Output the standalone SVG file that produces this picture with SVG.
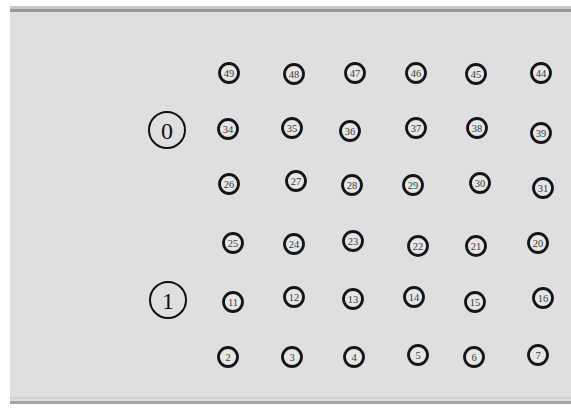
<svg xmlns="http://www.w3.org/2000/svg" width="571" height="408" viewBox="0 0 571 408">
<style>
.n circle{fill:#e6e6e8;stroke:#151515;stroke-width:2.8}
.n text{font-family:"Liberation Serif",serif;font-size:10.5px;fill:#3a3a3a;text-anchor:middle;dominant-baseline:central}
.b circle{fill:none;stroke:#111;stroke-width:2}
.b text{font-family:"Liberation Serif",serif;font-size:24px;fill:#111;text-anchor:middle;dominant-baseline:central}
</style>
<rect width="571" height="408" fill="#ffffff"/>
<rect x="10" y="6" width="561" height="398" fill="#dfdfe1"/>
<rect x="10" y="6" width="561" height="3" fill="#c8c8ca"/>
<rect x="10" y="9" width="561" height="3" fill="#959597"/>
<rect x="10" y="397" width="561" height="2" fill="#d2d2d4"/>
<rect x="10" y="401" width="561" height="3" fill="#a4a4a6"/>
<g id="connectors"></g>
<g id="n0" class="b"><circle cx="167" cy="130" r="18"/><text x="167" y="131">0</text></g>
<g id="n1" class="b"><circle cx="168" cy="300" r="18"/><text x="168" y="301">1</text></g>
<g id="n49" class="n"><circle cx="229" cy="73" r="9.5"/><text x="229" y="73">49</text></g>
<g id="n48" class="n"><circle cx="294" cy="74" r="9.5"/><text x="294" y="74">48</text></g>
<g id="n47" class="n"><circle cx="355" cy="73" r="9.5"/><text x="355" y="73">47</text></g>
<g id="n46" class="n"><circle cx="416" cy="73" r="9.5"/><text x="416" y="73">46</text></g>
<g id="n45" class="n"><circle cx="476" cy="74" r="9.5"/><text x="476" y="74">45</text></g>
<g id="n44" class="n"><circle cx="541" cy="73" r="9.5"/><text x="541" y="73">44</text></g>
<g id="n34" class="n"><circle cx="228" cy="129" r="9.5"/><text x="228" y="129">34</text></g>
<g id="n35" class="n"><circle cx="292" cy="128" r="9.5"/><text x="292" y="128">35</text></g>
<g id="n36" class="n"><circle cx="350" cy="131" r="9.5"/><text x="350" y="131">36</text></g>
<g id="n37" class="n"><circle cx="416" cy="128" r="9.5"/><text x="416" y="128">37</text></g>
<g id="n38" class="n"><circle cx="477" cy="128" r="9.5"/><text x="477" y="128">38</text></g>
<g id="n39" class="n"><circle cx="541" cy="133" r="9.5"/><text x="541" y="133">39</text></g>
<g id="n26" class="n"><circle cx="229" cy="184" r="9.5"/><text x="229" y="184">26</text></g>
<g id="n27" class="n"><circle cx="296" cy="181" r="9.5"/><text x="296" y="181">27</text></g>
<g id="n28" class="n"><circle cx="352" cy="185" r="9.5"/><text x="352" y="185">28</text></g>
<g id="n29" class="n"><circle cx="413" cy="185" r="9.5"/><text x="413" y="185">29</text></g>
<g id="n30" class="n"><circle cx="480" cy="183" r="9.5"/><text x="480" y="183">30</text></g>
<g id="n31" class="n"><circle cx="543" cy="188" r="9.5"/><text x="543" y="188">31</text></g>
<g id="n25" class="n"><circle cx="233" cy="243" r="9.5"/><text x="233" y="243">25</text></g>
<g id="n24" class="n"><circle cx="294" cy="244" r="9.5"/><text x="294" y="244">24</text></g>
<g id="n23" class="n"><circle cx="353" cy="241" r="9.5"/><text x="353" y="241">23</text></g>
<g id="n22" class="n"><circle cx="418" cy="246" r="9.5"/><text x="418" y="246">22</text></g>
<g id="n21" class="n"><circle cx="476" cy="246" r="9.5"/><text x="476" y="246">21</text></g>
<g id="n20" class="n"><circle cx="538" cy="243" r="9.5"/><text x="538" y="243">20</text></g>
<g id="n11" class="n"><circle cx="233" cy="302" r="9.5"/><text x="233" y="302">11</text></g>
<g id="n12" class="n"><circle cx="294" cy="297" r="9.5"/><text x="294" y="297">12</text></g>
<g id="n13" class="n"><circle cx="353" cy="299" r="9.5"/><text x="353" y="299">13</text></g>
<g id="n14" class="n"><circle cx="414" cy="297" r="9.5"/><text x="414" y="297">14</text></g>
<g id="n15" class="n"><circle cx="475" cy="302" r="9.5"/><text x="475" y="302">15</text></g>
<g id="n16" class="n"><circle cx="543" cy="298" r="9.5"/><text x="543" y="298">16</text></g>
<g id="n2" class="n"><circle cx="228" cy="357" r="9.5"/><text x="228" y="357">2</text></g>
<g id="n3" class="n"><circle cx="292" cy="357" r="9.5"/><text x="292" y="357">3</text></g>
<g id="n4" class="n"><circle cx="354" cy="357" r="9.5"/><text x="354" y="357">4</text></g>
<g id="n5" class="n"><circle cx="418" cy="355" r="9.5"/><text x="418" y="355">5</text></g>
<g id="n6" class="n"><circle cx="474" cy="357" r="9.5"/><text x="474" y="357">6</text></g>
<g id="n7" class="n"><circle cx="538" cy="355" r="9.5"/><text x="538" y="355">7</text></g>
</svg>
